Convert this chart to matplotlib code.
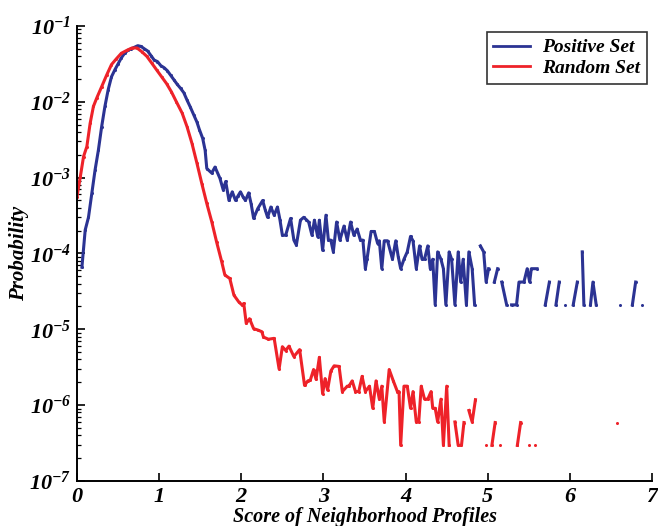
import numpy as np
import matplotlib
matplotlib.use("Agg")
import matplotlib.pyplot as plt
from matplotlib.ticker import LogLocator, FixedLocator, NullFormatter

nan = np.nan

# ---- data (NaN = empty bin, line break) ----
pos_x = [0.06, 0.10, 0.14, 0.18, 0.22, 0.26, 0.30, 0.34, 0.38, 0.42, 0.46, 0.50, 0.54, 0.58,
         0.62, 0.66, 0.70, 0.74, 0.78, 0.82, 0.86, 0.90, 0.94, 0.98, 1.02, 1.06, 1.10, 1.14,
         1.18, 1.22, 1.26, 1.30, 1.34, 1.38, 1.42, 1.46, 1.49, 1.53, 1.56, 1.58, 1.64, 1.68,
         1.74, 1.78, 1.81, 1.85, 1.89, 1.93, 1.96, 1.99, 2.02, 2.05, 2.09, 2.12, 2.15, 2.20,
         2.26, 2.29, 2.32, 2.36, 2.40, 2.44, 2.47, 2.50, 2.54, 2.60, 2.64, 2.67, 2.72, 2.76,
         2.79, 2.82, 2.86, 2.89, 2.93, 2.95, 2.99, 3.03, 3.06, 3.09, 3.12, 3.16, 3.20, 3.25,
         3.29, 3.33, 3.37, 3.41, 3.45, 3.48, 3.51, 3.53, 3.58, 3.62, 3.66, 3.68, 3.71, 3.74,
         3.78, 3.84, 3.88, 3.91, 3.94, 3.98, 4.02, 4.06, 4.09, 4.13, 4.17, 4.20, 4.23, 4.27,
         4.30, 4.33, 4.36, 4.39, 4.43, 4.46, 4.49, 4.53, 4.56, 4.60, 4.64, 4.67, 4.70, 4.74,
         4.77, 4.81, 4.84, 4.87, 4.91, 4.95, 4.98, 5.01, 5.05, 5.08, 5.12, 5.145, 5.17, 5.23,
         5.26, 5.29, 5.35, 5.38, 5.44, 5.48, 5.51, 5.53, 5.60, 5.65, 5.70, 5.75, 5.79, 5.83,
         5.87, 5.90, 5.94, 5.99, 6.04, 6.09, 6.12, 6.15, 6.17, 6.21, 6.25, 6.28, 6.32, 6.40,
         6.61, 6.70, 6.76, 6.80, 6.84, 6.88]
pos_y = [6.6e-5, 2.04e-4, 3.0e-4, 6.2e-4, 1.26e-3, 2.29e-3, 4.68e-3, 8.7e-3, 1.45e-2, 2.14e-2,
         2.63e-2, 3.16e-2, 3.8e-2, 4.37e-2, 4.79e-2, 5.0e-2, 5.25e-2, 5.5e-2, 5.37e-2, 5.0e-2,
         4.68e-2, 4.07e-2, 3.55e-2, 3.39e-2, 3.0e-2, 2.82e-2, 2.57e-2, 2.24e-2, 1.95e-2, 1.7e-2,
         1.51e-2, 1.32e-2, 1.05e-2, 8.5e-3, 6.8e-3, 5.4e-3, 4.3e-3, 3.3e-3, 2.29e-3, 1.32e-3,
         1.15e-3, 1.38e-3, 9.8e-4, 6.9e-4, 8.9e-4, 5.0e-4, 6.5e-4, 5.0e-4, 5.75e-4, 6.5e-4,
         5.6e-4, 5.0e-4, 6.3e-4, 4.5e-4, 2.9e-4, 3.9e-4, 5.0e-4, 3.8e-4, 3.0e-4, 4.1e-4,
         3.2e-4, 4.1e-4, 2.8e-4, 1.74e-4, 1.74e-4, 2.9e-4, 1.5e-4, 1.29e-4, 2.75e-4, 3.0e-4,
         2.8e-4, 2.6e-4, 1.74e-4, 2.75e-4, 1.66e-4, 2.75e-4, 1.1e-4, 3.2e-4, 1.5e-4, 1.5e-4,
         1.05e-4, 2.6e-4, 1.5e-4, 2.3e-4, 1.5e-4, 2.6e-4, 1.74e-4, 2.1e-4, 1.5e-4, 1.5e-4,
         6.3e-5, 8.4e-5, 1.95e-4, 1.95e-4, 1.35e-4, 1.47e-4, 6.3e-5, 1.47e-4, 1.47e-4, 8.4e-5,
         1.47e-4, 9.1e-5, 6.3e-5, 8.4e-5, 1.05e-4, 1.68e-4, 1.47e-4, 6.3e-5, 1.26e-4, 8.4e-5,
         8.4e-5, 1.26e-4, 6.3e-5, 8.4e-5, 2.1e-5, 1.05e-4, 8.4e-5, 6.3e-5, 2.1e-5, 1.05e-4,
         8.4e-5, 2.1e-5, 1.05e-4, 4.2e-5, 8.4e-5, 2.1e-5, 1.05e-4, 6.3e-5, 2.1e-5, nan,
         1.26e-4, 1.05e-4, 4.2e-5, 6.3e-5, nan, 4.2e-5, 6.3e-5, nan, 4.2e-5, 2.1e-5,
         nan, 2.1e-5, 2.1e-5, 4.2e-5, 4.2e-5, 6.3e-5, 4.2e-5, 6.3e-5, 6.3e-5, nan,
         2.1e-5, 4.2e-5, nan, 2.1e-5, 4.2e-5, nan, 2.1e-5, nan, 2.1e-5, 4.2e-5,
         nan, 1.05e-4, 2.1e-5, nan, 2.1e-5, 4.2e-5, 2.1e-5, nan, 2.1e-5, nan,
         2.1e-5, 4.2e-5, nan, 2.1e-5]

rnd_x = [0.00, 0.04, 0.08, 0.12, 0.16, 0.20, 0.24, 0.30, 0.36, 0.42, 0.48, 0.54, 0.61, 0.67,
         0.73, 0.79, 0.85, 0.91, 0.97, 1.03, 1.09, 1.15, 1.21, 1.28, 1.34, 1.40, 1.46, 1.52,
         1.58, 1.64, 1.70, 1.76, 1.80, 1.86, 1.91, 1.97, 2.01, 2.03, 2.06, 2.10, 2.15, 2.20,
         2.25, 2.27, 2.33, 2.40, 2.46, 2.50, 2.54, 2.58, 2.64, 2.71, 2.77, 2.81, 2.84, 2.88,
         2.91, 2.95, 2.99, 3.02, 3.05, 3.09, 3.13, 3.19, 3.23, 3.29, 3.31, 3.35, 3.39, 3.43,
         3.47, 3.51, 3.56, 3.60, 3.64, 3.68, 3.71, 3.74, 3.80, 3.85, 3.90, 3.92, 3.94, 3.98,
         4.02, 4.06, 4.09, 4.13, 4.16, 4.19, 4.23, 4.27, 4.31, 4.33, 4.36, 4.39, 4.43, 4.46,
         4.50, 4.53, 4.56, 4.60, 4.64, 4.68, 4.71, 4.74, 4.77, 4.81, 4.85, 4.90, 4.98, 5.01,
         5.05, 5.09, 5.12, 5.15, 5.20, 5.36, 5.40, 5.45, 5.50, 5.54, 5.58, 6.00, 6.57]
rnd_y = [5.6e-4, 1.02e-3, 1.9e-3, 2.57e-3, 5.2e-3, 8.7e-3, 1.12e-2, 1.58e-2, 2.24e-2, 3.1e-2,
         3.7e-2, 4.37e-2, 4.79e-2, 5.13e-2, 5.13e-2, 4.57e-2, 3.98e-2, 3.24e-2, 2.63e-2, 2.14e-2,
         1.74e-2, 1.35e-2, 1.0e-2, 7.1e-3, 4.68e-3, 2.82e-3, 1.55e-3, 8.3e-4, 4.57e-4, 2.63e-4,
         1.41e-4, 7.9e-5, 5.2e-5, 4.68e-5, 2.82e-5, 2.29e-5, 2.09e-5, 2.19e-5, 1.2e-5, 1.38e-5,
         1.02e-5, 9.8e-6, 9.3e-6, 7.9e-6, 7.4e-6, 7.6e-6, 3.0e-6, 5.9e-6, 5.25e-6, 6.0e-6,
         4.37e-6, 5.4e-6, 1.82e-6, 2.09e-6, 2.14e-6, 2.95e-6, 2.19e-6, 4.27e-6, 1.41e-6, 2.24e-6,
         1.58e-6, 2.82e-6, 3.3e-6, 3.24e-6, 1.51e-6, 1.78e-6, 1.78e-6, 2.09e-6, 1.51e-6, 1.51e-6,
         2.4e-6, 1.51e-6, 1.78e-6, 9.1e-7, 2.09e-6, 1.2e-6, 1.78e-6, 6.0e-7, 2.95e-6, 2.09e-6,
         1.51e-6, 1.51e-6, 2.95e-7, 1.78e-6, 1.78e-6, 9.1e-7, 1.51e-6, 6.0e-7, 6.0e-7, 1.78e-6,
         1.2e-6, 1.2e-6, 1.51e-6, 9.1e-7, 9.1e-7, 6.0e-7, 1.2e-6, 2.95e-7, 1.78e-6, 2.95e-7,
         nan, 6.0e-7, 2.95e-7, 2.95e-7, 5.9e-7, nan, 8.5e-7, 6.0e-7, 1.18e-6, nan,
         2.95e-7, nan, 2.95e-7, 5.9e-7, nan, 2.95e-7, nan, 2.95e-7, 5.9e-7, nan,
         2.95e-7, nan, 2.95e-7, nan, 5.9e-7]

series_labels = ["Positive Set", "Random Set"]
x_ticks = [0, 1, 2, 3, 4, 5, 6, 7]
y_exponents = [-7, -6, -5, -4, -3, -2, -1]
x_label = "Score of Neighborhood Profiles"
y_label = "Probability"

# ---- style ----
plt.rcParams["mathtext.fontset"] = "custom"
for k in ("rm", "it", "bf", "sf"):
    plt.rcParams["mathtext." + k] = "Liberation Serif:bold:italic"
plt.rcParams["font.family"] = ["Liberation Serif", "DejaVu Serif"]

BLUE = "#2B3393"
RED = "#EE2229"
tfont = dict(family="Liberation Serif", weight="bold", style="italic")

fig = plt.figure(figsize=(6.58, 5.26), dpi=100)
ax = fig.add_axes([0.117, 0.0856, 0.874, 0.865])

ax.plot(pos_x, pos_y, color=BLUE, lw=2.2, marker="o", ms=2.2, mew=0,
        label=series_labels[0])
ax.plot(rnd_x, rnd_y, color=RED, lw=2.2, marker="o", ms=2.2, mew=0,
        label=series_labels[1])

ax.set_yscale("log")
ax.set_xlim(0, 7)
ax.set_ylim(1e-7, 1e-1)

ax.set_xticks(x_ticks)
ax.set_xticklabels([str(v) for v in x_ticks], fontsize=16, **tfont)
ax.yaxis.set_major_locator(FixedLocator([10.0 ** e for e in y_exponents]))
ax.set_yticklabels([r"$10^{%d}$" % e for e in y_exponents], fontsize=16)
ax.yaxis.set_minor_locator(LogLocator(base=10, subs=np.arange(2, 10), numticks=20))
ax.yaxis.set_minor_formatter(NullFormatter())

ax.tick_params(axis="both", which="major", direction="in", length=6, width=1.2,
               colors="black")
ax.tick_params(axis="y", which="minor", direction="in", length=3, width=0.9)
ax.tick_params(axis="x", which="major", pad=4)
ax.tick_params(axis="y", which="major", pad=4)

for s in ("top", "right"):
    ax.spines[s].set_visible(False)
for s in ("left", "bottom"):
    ax.spines[s].set_linewidth(1.4)

ax.set_xlabel(x_label, fontsize=14.5, labelpad=0, **tfont)
ax.set_ylabel(y_label, fontsize=15, labelpad=0, **tfont)

leg = ax.legend(loc="upper right", bbox_to_anchor=(0.991, 0.987), borderaxespad=0,
                frameon=True, fancybox=False, edgecolor="black", handlelength=1.9,
                handletextpad=0.6, borderpad=0.35, labelspacing=0.15,
                prop=dict(family="Liberation Serif", weight="bold", style="italic", size=14))
leg.get_frame().set_linewidth(1.2)
for h in leg.get_lines():
    h.set_marker("")
    h.set_linewidth(2.0)

fig.savefig("out.png", dpi=100)
